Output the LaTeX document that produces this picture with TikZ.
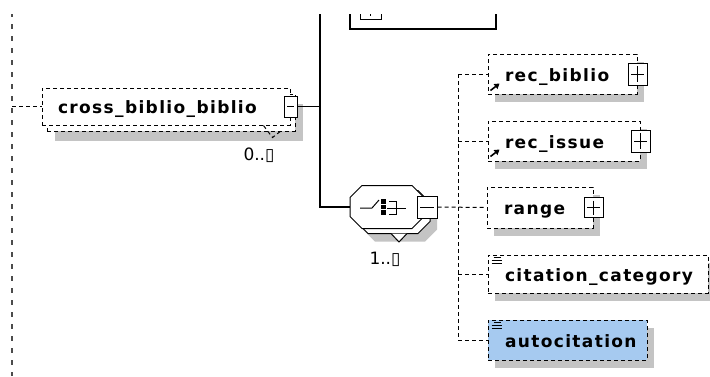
\documentclass[tikz,border=0pt]{standalone}
\usepackage{fontspec}
\usepackage{tikz}
\usetikzlibrary{positioning}
\usetikzlibrary{shadows}
\usetikzlibrary{arrows.meta}
\newfontfamily\lblfont[LetterSpace=8]{DejaVu Sans}
\newfontfamily\numfont{DejaVu Sans}
\definecolor{shadowgray}{RGB}{196,196,196}
\definecolor{selblue}{RGB}{166,202,240}
\newcommand{\octpath}{(-37,-9.5) -- (-25,-21.5) -- (25,-21.5) -- (37,-9.5)
  -- (37,9.5) -- (25,21.5) -- (-25,21.5) -- (-37,9.5) -- cycle}

\tikzset{
  conn/.style={line width=1pt, dash pattern=on 4pt off 3pt},
  lifeline/.style={line width=1.6pt, gray!60!black, dash pattern=on 5pt off 7pt},
  elem/.style={draw, line width=1pt, dash pattern=on 4pt off 3pt, fill=white,
    font=\lblfont\bfseries\fontsize{17}{20}\selectfont,
    align=left, inner xsep=17pt, inner ysep=0pt, text height=14pt, text depth=0pt},
  single/.style={general shadow={fill=shadowgray, shadow xshift=7pt, shadow yshift=-8pt}},
  stacked/.style={general shadow={fill=shadowgray, shadow xshift=13pt, shadow yshift=-16pt},
    general shadow={fill=white, draw, line width=1pt, dash pattern=on 4pt off 3pt,
      shadow xshift=5pt, shadow yshift=-6pt}},
  pmbox/.style={draw, solid, line width=1pt, fill=white, inner sep=0pt,
    minimum width=19pt, minimum height=22pt},
  plusbox/.style={pmbox, path picture={
    \draw[solid, line width=1pt] ([xshift=3pt]path picture bounding box.west)
      -- ([xshift=-3pt]path picture bounding box.east);
    \draw[solid, line width=1pt] ([yshift=-3pt]path picture bounding box.north)
      -- ([yshift=3pt]path picture bounding box.south);}},
  minusbox/.style={pmbox, path picture={
    \draw[solid, line width=1pt] ([xshift=3pt]path picture bounding box.west)
      -- ([xshift=-3pt]path picture bounding box.east);}},
  occ/.style={font=\numfont\fontsize{17}{20}\selectfont, inner sep=0pt},
}

\begin{document}
\begin{tikzpicture}[x=1pt, y=-1pt]

    \useasboundingbox (0,0) rectangle (710,376);
    \fill[white] (0,0) rectangle (710,376);

    % attributes box, cut off at the top
    \node (attr) [draw, line width=1.3pt, minimum width=146pt,
        minimum height=54pt, inner sep=0pt] at (423,2) {};
    \node (attrplus) [plusbox, minimum width=21pt, minimum height=21pt]
        at (370.5,8.5) {};

    % the element on the left
    \node (cross) [elem, stacked, text width=216pt, inner xsep=16pt,
        minimum height=37pt] at (166,106.5) {\mbox{cross\_biblio\_biblio}};
    \draw[conn] ([xshift=-27pt]cross.south east) -- ++(9,12) -- ++(9,-7);
    \node (crossminus) [minusbox, minimum width=13pt, minimum height=21pt]
        at (cross.east) {};
    \node (crossocc) [occ] at (259,155) {0..▯};

    % sequence compositor
    \node (seq) [minimum width=74pt, minimum height=43pt, inner sep=0pt] at (387,207) {};
    \begin{scope}[shift={(seq.center)}]
        \fill[shadowgray, shift={(13,13)}] \octpath;
        \draw[line width=1pt, fill=white, shift={(6,5)}] \octpath;
        \draw[line width=1pt, fill=white] (4,26.5) -- (12,35) -- (20,26.5);
        \draw[line width=1pt, fill=white] \octpath;
        \draw[line width=1pt] (-27,1) -- (-15,1) -- (-8,-7);
        \fill (-6,-8) rectangle (-1,-3.5);
        \fill (-6,-2.5) rectangle (-1,2);
        \fill (-6,3) rectangle (-1,7.5);
        \draw[line width=1pt] (2,-6) -- (9,-6) -- (9,7) -- (2,7);
        \draw[line width=1pt] (0,1) -- (19,1);
    \end{scope}
    \node (seqminus) [minusbox, minimum width=20pt] at ([xshift=3pt]seq.east) {};
    \node (seqocc) [occ] at (385,259.5) {1..▯};

    % child elements
    \node (recbiblio) [elem, single, text width=115pt, minimum height=40pt]
        at (562.5,74) {\mbox{rec\_biblio}};
    \node (recissue) [elem, single, text width=118pt, minimum height=40pt]
        at (564,141) {\mbox{rec\_issue}};
    \node (range) [elem, single, text width=72pt, minimum height=41pt]
        at (540,207.5) {range};
    \node (citcat) [elem, single, text width=186pt, minimum height=38pt]
        at (598,274) {\mbox{citation\_category}};
    \node (autocit) [elem, single, fill=selblue, text width=125pt, minimum height=40pt]
        at (567.5,340) {\mbox{autocitation}};

    \node (recbiblioplus) [plusbox] at (recbiblio.east) {};
    \node (recissueplus) [plusbox] at (recissue.east) {};
    \node (rangeplus) [plusbox, minimum height=20pt] at (range.east) {};

    % reference arrows and simple content marks
    \draw[-{Triangle[length=5pt,width=6pt]}, line width=1.6pt]
        ([xshift=3pt,yshift=4pt]recbiblio.south west) -- ++(9,-7);
    \draw[-{Triangle[length=5pt,width=6pt]}, line width=1.6pt]
        ([xshift=3pt,yshift=5pt]recissue.south west) -- ++(9,-7);
    \draw[line width=1pt]
        ([xshift=6pt,yshift=-3pt]citcat.north west) -- ++(7,0)
        ([xshift=4pt,yshift=-6pt]citcat.north west) -- ++(10,0)
        ([xshift=4pt,yshift=-9pt]citcat.north west) -- ++(10,0);
    \draw[line width=1pt]
        ([xshift=6pt,yshift=-3pt]autocit.north west) -- ++(7,0)
        ([xshift=4pt,yshift=-6pt]autocit.north west) -- ++(10,0)
        ([xshift=4pt,yshift=-9pt]autocit.north west) -- ++(10,0);

    % connectors
    \coordinate (ltop) at (12,0);
    \coordinate (lbot) at (12,376);
    \coordinate (trunktop) at (320,0);
    \coordinate (fork) at (458,207.5);

    \draw[lifeline] (ltop) -- (lbot);
    \draw[conn] (ltop |- cross.west) -- (cross.west);
    \draw[line width=1.3pt] (crossminus.east) -- (crossminus.east -| trunktop);
    \draw[line width=1.3pt] (trunktop) |- (seq.west);
    \draw[conn] (seqminus.east) -- (range.west);
    \draw[conn] (fork |- recbiblio.west) -- (fork |- autocit.west);
    \draw[conn] (fork |- recbiblio.west) -- (recbiblio.west);
    \draw[conn] (fork |- recissue.west) -- (recissue.west);
    \draw[conn] (fork |- citcat.west) -- (citcat.west);
    \draw[conn] (fork |- autocit.west) -- (autocit.west);

    % the view is cut off above this band
    \fill[white] (0,0) rectangle (710,13.5);

\end{tikzpicture}
\end{document}
